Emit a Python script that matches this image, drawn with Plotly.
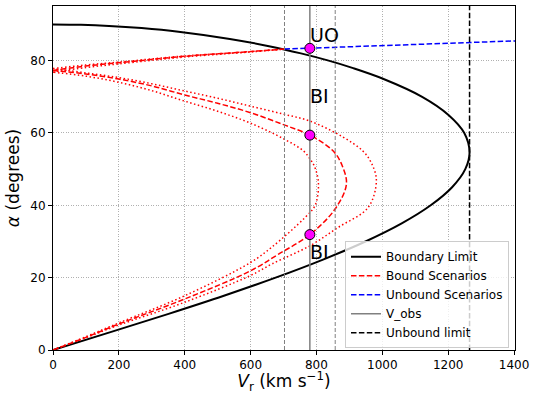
import plotly.graph_objects as go

FONT = "DejaVu Sans"

# Boundary limit (V_r in km/s, alpha in degrees)
boundary_alpha = [0, 5, 10, 15, 20, 25, 30, 35, 40, 45, 50, 54.7, 60, 65, 70, 75, 78, 80, 82, 84, 86, 88, 89, 89.6, 89.9, 90]
boundary_v = [0, 177, 351, 519, 676, 820, 949, 1059, 1147, 1212, 1252, 1265, 1249, 1201, 1121, 1002, 909, 837, 753, 656, 537, 381, 269, 170, 85, 0]

# Bound scenarios: closed loops (central dashed + two dotted envelopes)
mid_v = [0, 100, 200, 400, 600, 685, 780, 856, 891, 878, 851, 780, 700, 600, 500, 400, 300, 200, 100, 0]
mid_alpha = [0, 3.5, 7.2, 14.1, 21.9, 26.5, 31.9, 38.9, 45.8, 51.0, 55.0, 59.4, 62.3, 65.6, 68.2, 70.5, 73.0, 74.9, 76.3, 77.3]
outer_v = [0, 100, 200, 400, 600, 665, 780, 866, 957, 982, 968, 941, 880, 780, 700, 600, 500, 400, 300, 200, 100, 0]
outer_alpha = [0, 3.4, 6.9, 13.2, 20.6, 23.8, 28.8, 33.9, 39.4, 46.8, 51.5, 55.0, 58.9, 63.3, 65.2, 67.4, 69.6, 71.6, 73.6, 75.3, 76.6, 77.8]
inner_v = [0, 100, 200, 400, 600, 664, 765, 796, 806, 793, 782, 761, 700, 600, 500, 400, 300, 200, 100, 0]
inner_alpha = [0, 3.7, 7.5, 15.0, 24.2, 28.4, 36.6, 40.0, 46.3, 51.0, 52.6, 55.0, 58.4, 62.7, 66.0, 68.8, 71.7, 74.0, 75.7, 76.8]

# Bound scenarios: rising high-alpha branches up to the boundary
rise_v = [0, 100, 200, 400, 600, 703]
rise_mid_alpha = [77.3, 78.5, 79.4, 81.2, 82.5, 83.2]
rise_outer_alpha = [77.8, 78.8, 79.6, 81.3, 82.5, 83.2]
rise_inner_alpha = [76.8, 78.1, 79.1, 81.0, 82.4, 83.2]

# Unbound scenarios
unbound_v = [703, 1050, 1420]
unbound_alpha = [83.2, 84.4, 85.5]

# Observed velocity and limits
v_obs = 780
v_obs_err = [703, 857]
v_unbound_limit = 1265
obs_alpha = [83.4, 59.4, 31.9]
labels = ["UO", "BI", "BI"]
label_alpha = [85.0, 68.0, 25.0]

Y_TOP = 95.1
X_MAX = 1403

fig = go.Figure()

# Boundary
fig.add_trace(go.Scatter(x=boundary_v, y=boundary_alpha, mode="lines", name="Boundary Limit",
                         line=dict(color="black", width=2, shape="spline")))

DASH = "5.5px,2.4px"
DOT = "1.5px,2.5px"
# Bound scenario loops
fig.add_trace(go.Scatter(x=mid_v, y=mid_alpha, mode="lines", name="Bound Scenarios",
                         line=dict(color="#ff0000", width=1.5, dash=DASH, shape="spline")))
for xs, ys, d in [(outer_v, outer_alpha, DOT), (inner_v, inner_alpha, DOT),
                  (rise_v, rise_mid_alpha, DASH), (rise_v, rise_outer_alpha, DOT),
                  (rise_v, rise_inner_alpha, DOT)]:
    fig.add_trace(go.Scatter(x=xs, y=ys, mode="lines", showlegend=False,
                             line=dict(color="#ff0000", width=1.5, dash=d, shape="spline")))

# Unbound scenarios
fig.add_trace(go.Scatter(x=unbound_v, y=unbound_alpha, mode="lines", name="Unbound Scenarios",
                         line=dict(color="#0000ff", width=1.5, dash=DASH)))

# V_obs
fig.add_trace(go.Scatter(x=[v_obs, v_obs], y=[0, Y_TOP], mode="lines", name="V_obs",
                         line=dict(color="gray", width=1.5)))
# Unbound limit
fig.add_trace(go.Scatter(x=[v_unbound_limit, v_unbound_limit], y=[0, Y_TOP], mode="lines",
                         name="Unbound limit", line=dict(color="black", width=1.5, dash=DASH)))
# Error lines
for ve in v_obs_err:
    fig.add_trace(go.Scatter(x=[ve, ve], y=[0, Y_TOP], mode="lines", showlegend=False,
                             line=dict(color="gray", width=1, dash="4px,2px")))

# Observation points
fig.add_trace(go.Scatter(x=[v_obs] * len(obs_alpha), y=obs_alpha, mode="markers", showlegend=False,
                         marker=dict(color="#ff00ff", size=10, line=dict(color="black", width=1))))

for lab, ya in zip(labels, label_alpha):
    fig.add_annotation(x=v_obs, y=ya, text=lab, showarrow=False, xanchor="left", yanchor="bottom",
                       yshift=-5, xshift=-2, font=dict(family=FONT, size=19, color="black"))

axis_common = dict(showline=True, linecolor="black", linewidth=1, mirror=True,
                   ticks="outside", ticklen=4, tickcolor="black", tickwidth=1,
                   showgrid=True, gridcolor="#b0b0b0", griddash="1px,1.5px", gridwidth=0.8,
                   zeroline=False, tickfont=dict(family=FONT, size=12, color="black"))

fig.update_xaxes(range=[0, X_MAX], tickvals=[0, 200, 400, 600, 800, 1000, 1200, 1400],
                 title=dict(text="<i>V</i><sub>r</sub> (km s<sup>\u22121</sup>)",
                            font=dict(family=FONT, size=17, color="black"), standoff=4),
                 **axis_common)
fig.update_yaxes(range=[0, Y_TOP], tickvals=[0, 20, 40, 60, 80],
                 title=dict(text="<i>\u03b1</i> (degrees)",
                            font=dict(family=FONT, size=17, color="black"), standoff=6),
                 **axis_common)

fig.update_layout(
    width=534, height=394,
    margin=dict(l=53, r=16, t=5, b=44),
    plot_bgcolor="white", paper_bgcolor="white",
    font=dict(family=FONT, size=12, color="black"),
    legend=dict(x=0.987, xanchor="right", y=0.005, yanchor="bottom",
                bgcolor="rgba(255,255,255,0.8)", bordercolor="#cccccc", borderwidth=1,
                font=dict(family=FONT, size=12, color="black"), itemwidth=30,
                tracegroupgap=0),
)

fig.write_html("out.html", config={"displayModeBar": False},
               post_script="document.body.style.margin='0px';")
